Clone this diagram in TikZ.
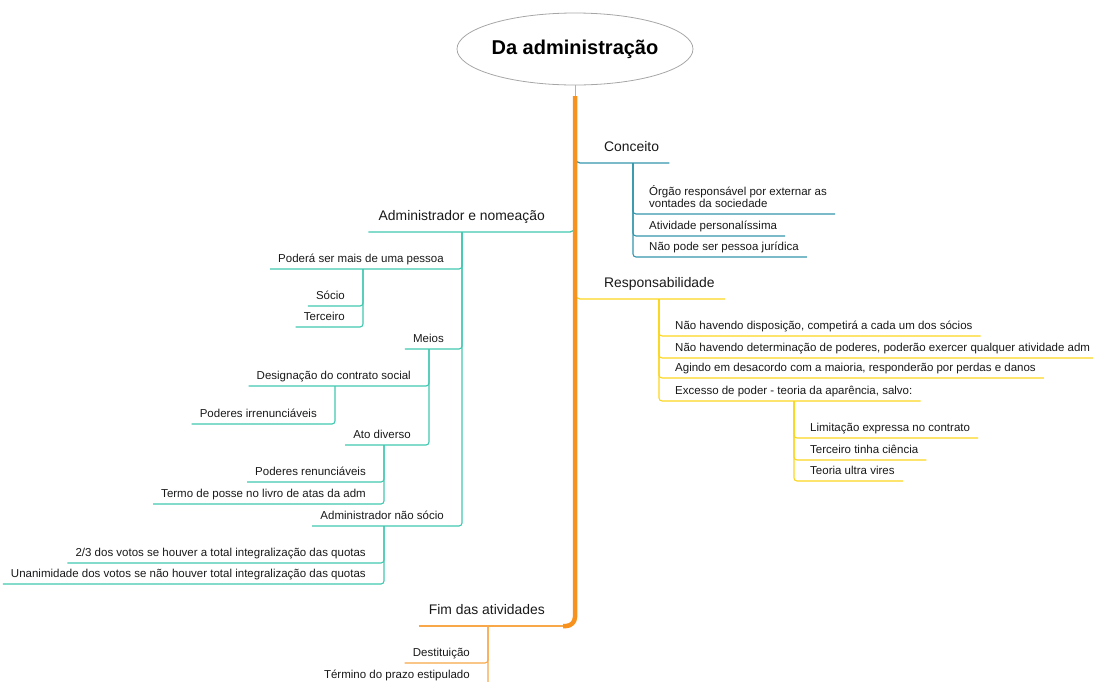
\documentclass[tikz,border=0pt]{standalone}
\usepackage{fontspec}
\setmainfont{Liberation Sans}
\usetikzlibrary{shapes.geometric}
\definecolor{trunkc}{RGB}{247,146,30}
\definecolor{concc}{RGB}{52,150,172}
\definecolor{admc}{RGB}{64,200,176}
\definecolor{respc}{RGB}{250,214,30}
\definecolor{fimc}{RGB}{248,168,72}
\tikzset{
  leaf/.style={font=\fontsize{11.5}{12.5}\selectfont, inner xsep=8pt, inner ysep=0pt,
    text height=8pt, text depth=6pt, text=black!90, align=left},
  branch/.style={font=\fontsize{13.9}{16}\selectfont, inner xsep=10pt, inner ysep=0pt,
    text height=10pt, text depth=11pt, text=black!90},
  lnk/.style={line width=1.1pt, rounded corners=3pt},
  mainlnk/.style={line width=1.3pt, rounded corners=5pt},
}
\begin{document}
\begin{tikzpicture}[x=1pt,y=-1pt]
\useasboundingbox (0,0) rectangle (1093,681);

% central topic
\node[ellipse, draw=gray!70, line width=0.8pt, inner xsep=0pt, minimum width=236pt, minimum height=72pt,
      font=\fontsize{20}{23}\selectfont\bfseries] (t) at (575,49) {Da administração};
\coordinate (ttop) at (575,96);
\coordinate (tbot) at (575,626);

% ---- Conceito ----
\node[branch, anchor=south west] (c) at (594,163) {Conceito};
\coordinate (cin) at (575,152);
\draw[concc, mainlnk] (cin) |- (c.south east);
\coordinate (cj) at (633,163);
\node[leaf, anchor=south west] (c1) at (641,214) {Órgão responsável por externar as\\vontades da sociedade};
\node[leaf, anchor=south west] (c2) at (641,236) {Atividade personalíssima};
\node[leaf, anchor=south west] (c3) at (641,257) {Não pode ser pessoa jurídica};
\foreach \n in {c1,c2,c3} \draw[concc, lnk] (cj) |- (\n.south east);

% ---- Administrador e nomeação ----
\node[branch, anchor=south east] (a) at (555,232) {Administrador e nomeação};
\coordinate (ain) at (575,222);
\draw[admc, mainlnk] (a.south west) -| (ain);
\coordinate (aj) at (462,232);
\node[leaf, anchor=south east] (a1) at (452,269) {Poderá ser mais de uma pessoa};
\node[leaf, anchor=south east] (a2) at (452,349) {Meios};
\node[leaf, anchor=south east] (a3) at (452,526) {Administrador não sócio};
\foreach \n in {a1,a2,a3} \draw[admc, lnk] (aj) |- (\n.south west);

\coordinate (a1j) at (363,269);
\node[leaf, anchor=south east] (a11) at (353,306) {Sócio};
\node[leaf, anchor=south east] (a12) at (353,327) {Terceiro};
\foreach \n in {a11,a12} \draw[admc, lnk] (a1j) |- (\n.south west);

\coordinate (a2j) at (429,349);
\node[leaf, anchor=south east] (a21) at (419,386) {Designação do contrato social};
\node[leaf, anchor=south east] (a22) at (419,445) {Ato diverso};
\foreach \n in {a21,a22} \draw[admc, lnk] (a2j) |- (\n.south west);

\coordinate (a21j) at (335,386);
\node[leaf, anchor=south east] (a211) at (325,424) {Poderes irrenunciáveis};
\draw[admc, lnk] (a21j) |- (a211.south west);

\coordinate (a22j) at (384,445);
\node[leaf, anchor=south east] (a221) at (374,482) {Poderes renunciáveis};
\node[leaf, anchor=south east] (a222) at (374,504) {Termo de posse no livro de atas da adm};
\foreach \n in {a221,a222} \draw[admc, lnk] (a22j) |- (\n.south west);

\coordinate (a3j) at (384,526);
\node[leaf, anchor=south east] (a31) at (374,563) {2/3 dos votos se houver a total integralização das quotas};
\node[leaf, anchor=south east] (a32) at (374,584) {Unanimidade dos votos se não houver total integralização das quotas};
\foreach \n in {a31,a32} \draw[admc, lnk] (a3j) |- (\n.south west);

% ---- Responsabilidade ----
\node[branch, anchor=south west] (r) at (594,299) {Responsabilidade};
\coordinate (rin) at (575,288);
\draw[respc, mainlnk] (rin) |- (r.south east);
\coordinate (rj) at (659,299);
\node[leaf, anchor=south west] (r1) at (667,336) {Não havendo disposição, competirá a cada um dos sócios};
\node[leaf, anchor=south west] (r2) at (667,358) {Não havendo determinação de poderes, poderão exercer qualquer atividade adm};
\node[leaf, anchor=south west] (r3) at (667,378) {Agindo em desacordo com a maioria, responderão por perdas e danos};
\node[leaf, anchor=south west] (r4) at (667,401) {Excesso de poder - teoria da aparência, salvo:};
\foreach \n in {r1,r2,r3,r4} \draw[respc, lnk] (rj) |- (\n.south east);

\coordinate (r4j) at (794,401);
\node[leaf, anchor=south west] (r41) at (802,438) {Limitação expressa no contrato};
\node[leaf, anchor=south west] (r42) at (802,460) {Terceiro tinha ciência};
\node[leaf, anchor=south west] (r43) at (802,481) {Teoria ultra vires};
\foreach \n in {r41,r42,r43} \draw[respc, lnk] (r4j) |- (\n.south east);

% ---- Fim das atividades ----
\node[branch, anchor=south east] (f) at (555,626) {Fim das atividades};
\draw[fimc, mainlnk] (f.south west) -- (566,626);
\coordinate (fj) at (488,626);
\node[leaf, anchor=south east] (f1) at (478,663) {Destituição};
\node[leaf, anchor=south east] (f2) at (478,685) {Término do prazo estipulado};
\foreach \n in {f1,f2} \draw[fimc, lnk] (fj) |- (\n.south west);

% trunk
\draw[gray!60, line width=0.8pt] (t.south) -- (ttop);
\draw[trunkc, line width=4.5pt, rounded corners=9pt] (ttop) -- (tbot) -- ++(-12,0);
\end{tikzpicture}
\end{document}
